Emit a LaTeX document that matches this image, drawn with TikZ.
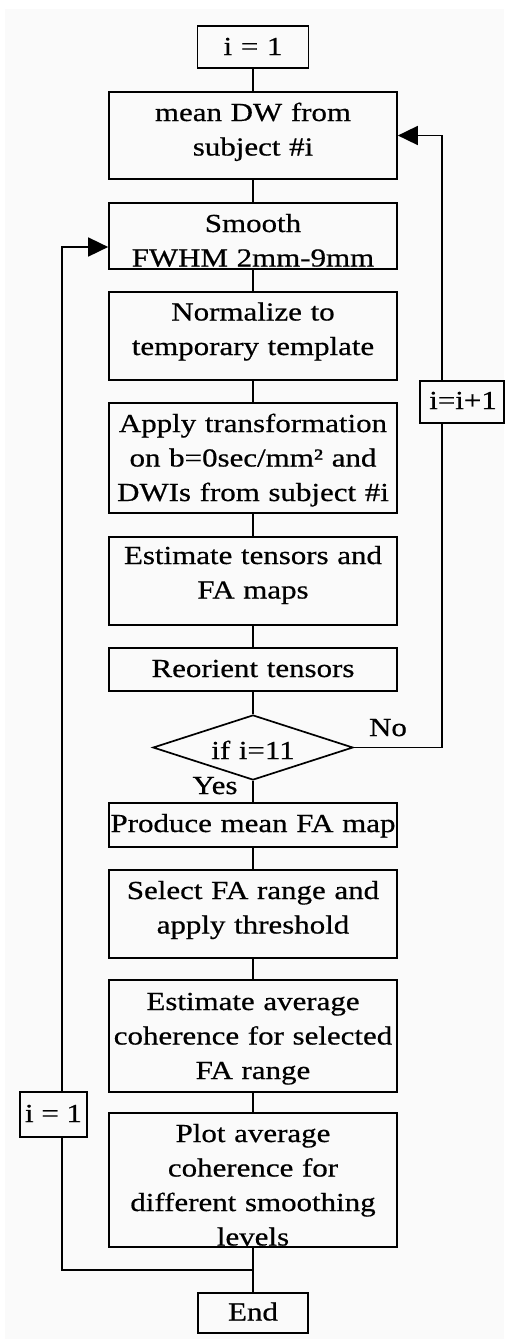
\documentclass[tikz,border=0pt]{standalone}
\usepackage{fontspec}
\setmainfont[FakeStretch=1.19,FakeBold=0.6]{Liberation Serif}
\usetikzlibrary{arrows.meta,shapes.geometric}
\definecolor{bgc}{RGB}{250,250,250}
\begin{document}
\begin{tikzpicture}[x=1pt,y=-1pt,
  box/.style={draw, line width=1.7pt, inner sep=0pt, fill=bgc},
  dia/.style={draw, diamond, line width=1.7pt, inner sep=0pt, fill=bgc, minimum width=200pt, minimum height=65pt},
  txt/.style={inner sep=0pt, text width=340pt, align=center, anchor=base, font=\fontsize{26}{34.5}\selectfont},
  lbl/.style={inner sep=0pt, anchor=base, font=\fontsize{26}{34.5}\selectfont},
  conn/.style={line width=1.7pt},
  arr/.style={line width=1.7pt, -{Triangle[length=20pt,width=19pt]}}]
\useasboundingbox (0,0) rectangle (504,1342);
\fill[bgc] (5,9) rectangle (504,1339);

% main column boxes
\node[box, minimum width=111pt, minimum height=42pt] (i1) at (253,47) {};
\node[box, minimum width=288pt, minimum height=87pt] (meandw) at (253,135.5) {};
\node[box, minimum width=288pt, minimum height=66pt] (smooth) at (253,236) {};
\node[box, minimum width=288pt, minimum height=88pt] (norm) at (253,336) {};
\node[box, minimum width=288pt, minimum height=110pt] (apply) at (253,458) {};
\node[box, minimum width=288pt, minimum height=88pt] (esttens) at (253,581) {};
\node[box, minimum width=288pt, minimum height=43pt] (reorient) at (253,669.5) {};
\node[dia] (cond) at (253,747.5) {};
\node[box, minimum width=288pt, minimum height=44pt] (produce) at (253,825) {};
\node[box, minimum width=288pt, minimum height=88pt] (select) at (253,914) {};
\node[box, minimum width=288pt, minimum height=112pt] (estavg) at (253,1036) {};
\node[box, minimum width=288pt, minimum height=134pt] (plot) at (253,1180) {};
\node[box, minimum width=110pt, minimum height=40pt] (endb) at (253,1313) {};

% connectors in the main column
\draw[conn] (i1) -- (meandw);
\draw[conn] (meandw) -- (smooth);
\draw[conn] (smooth) -- (norm);
\draw[conn] (norm) -- (apply);
\draw[conn] (apply) -- (esttens);
\draw[conn] (esttens) -- (reorient);
\draw[conn] (reorient) -- (cond);
\draw[conn] (cond) -- (produce);
\draw[conn] (produce) -- (select);
\draw[conn] (select) -- (estavg);
\draw[conn] (estavg) -- (plot);
\draw[conn] (plot) -- (endb);

% loops
\coordinate (junc) at (253,1270);
\coordinate (lcorner) at (62,1270);
\coordinate (rcorner) at (442,747.5);
\draw[arr] (junc) -- (lcorner) |- ([yshift=-11pt]smooth.west);
\draw[arr] (cond.east) -- (rcorner) |- (meandw.east);

\node[box, minimum width=84pt, minimum height=42pt] (inc) at (462,402) {};
\node[box, minimum width=67pt, minimum height=45pt] (i1l) at (53.5,1114.5) {};

% texts
\node[txt] (t-i1) at (253,55) {i = 1};
\node[txt] (t-meandw) at (253,121) {mean DW from\\subject \#i};
\node[txt] (t-smooth) at (253,232) {Smooth\\FWHM 2mm-9mm};
\node[txt] (t-norm) at (253,320.5) {Normalize to\\temporary template};
\node[txt] (t-apply) at (253,432) {Apply transformation\\on b=0sec/mm² and\\DWIs from subject \#i};
\node[txt] (t-esttens) at (253,564) {Estimate tensors and\\FA maps};
\node[txt] (t-reorient) at (253,677) {Reorient tensors};
\node[txt] (t-cond) at (253,759) {if i=11};
\node[txt] (t-produce) at (253,832) {Produce mean FA map};
\node[txt] (t-select) at (253,899) {Select FA range and\\apply threshold};
\node[txt] (t-estavg) at (253,1010) {Estimate average\\coherence for selected\\FA range};
\node[txt] (t-plot) at (253,1142) {Plot average\\coherence for\\different smoothing\\levels};
\node[txt] (t-end) at (253,1320.5) {End};
\node[lbl] (t-inc) at (463,409) {i=i+1};
\node[lbl] (t-i1l) at (53.5,1122) {i = 1};
\node[lbl] (t-no) at (388,736) {No};
\node[lbl] (t-yes) at (215,794) {Yes};
\end{tikzpicture}
\end{document}
